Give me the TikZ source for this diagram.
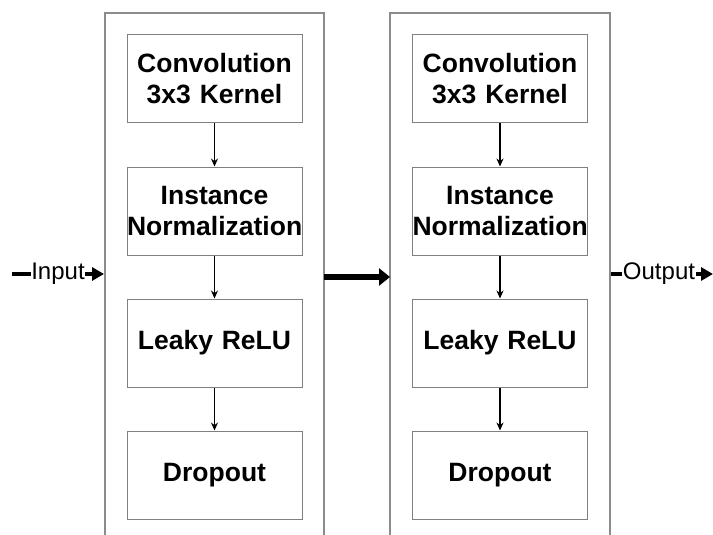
\documentclass[tikz,border=0pt]{standalone}
\usepackage{fontspec}
\setmainfont{Liberation Sans}
\usetikzlibrary{arrows.meta}
\begin{document}
\begin{tikzpicture}[x=1pt,y=-1pt,
  frame/.style={draw=black!45, line width=1.3pt},
  layer/.style={draw=black!50, line width=1pt, text width=175pt, minimum height=88pt,
    align=center, inner sep=0pt, font=\fontsize{26.5}{31}\selectfont\bfseries},
  flow/.style={line width=1.2pt, -{Stealth[length=8pt,width=7pt]}},
  io/.style={line width=4.5pt, -{Triangle[length=12pt,width=13pt]}},
  iolabel/.style={fill=white, inner sep=0.5pt, font=\fontsize{24}{28}\selectfont},
  bigarrow/.style={line width=6pt, -{Triangle[length=11pt,width=17pt]}}
]
\useasboundingbox (0,0) rectangle (713,535);
% frames
\draw[frame] (105,535) -- (105,13) -- (324,13) -- (324,535);
\draw[frame] (390,535) -- (390,13) -- (610,13) -- (610,535);
% block 1
\node[layer] (c1) at (214.5,79) {Convolution\\3x3 Kernel};
\node[layer] (n1) at (214.5,211) {Instance\\Normalization};
\node[layer] (r1) at (214.5,343) {Leaky ReLU};
\node[layer] (d1) at (214.5,475) {Dropout};
% block 2
\node[layer] (c2) at (500,79) {Convolution\\3x3 Kernel};
\node[layer] (n2) at (500,211) {Instance\\Normalization};
\node[layer] (r2) at (500,343) {Leaky ReLU};
\node[layer] (d2) at (500,475) {Dropout};
\foreach \b in {1,2}{
  \draw[flow] (c\b) -- (n\b);
  \draw[flow] (n\b) -- (r\b);
  \draw[flow] (r\b) -- (d\b);
}
% io
\coordinate (inS) at (12,274);
\coordinate (inE) at (104,274);
\coordinate (midS) at (324,277);
\coordinate (midE) at (390,277);
\coordinate (outS) at (611,274);
\coordinate (outE) at (713,274);
\draw[io] (inS) -- node[iolabel] {Input} (inE);
\draw[bigarrow] (midS) -- (midE);
\draw[io] (outS) -- node[iolabel, xshift=-3pt] {Output} (outE);
\end{tikzpicture}
\end{document}
